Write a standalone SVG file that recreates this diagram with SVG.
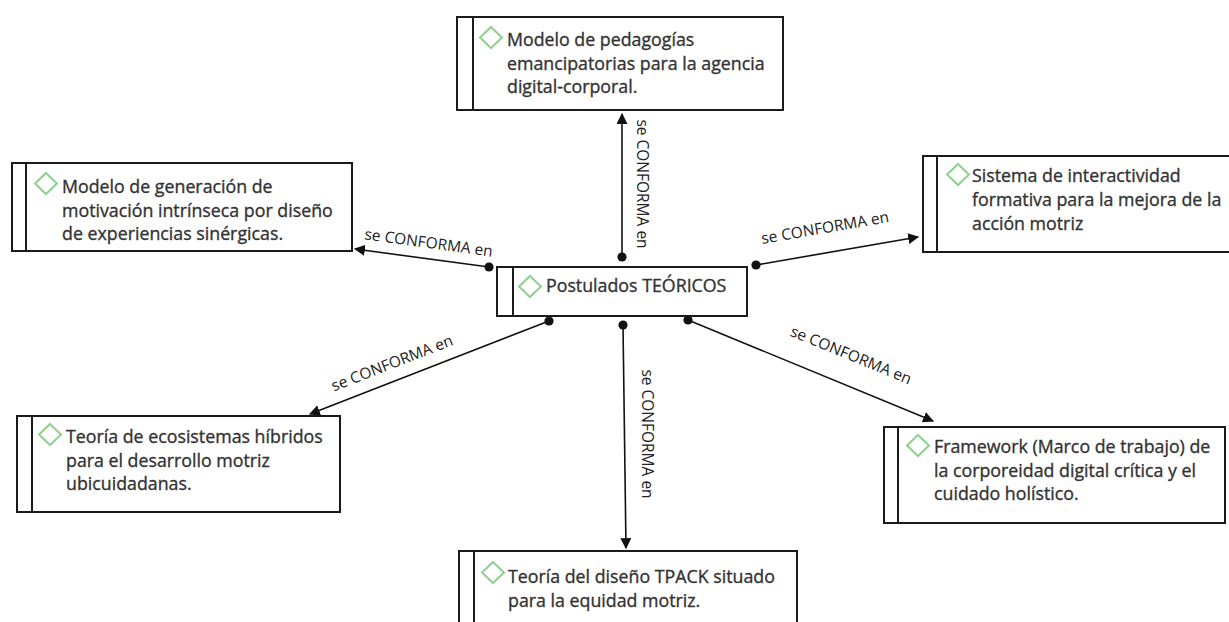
<svg xmlns="http://www.w3.org/2000/svg" width="1229" height="622" viewBox="0 0 1229 622">
<defs>
<style>
.box{fill:#fff;stroke:#1a1a1a;stroke-width:2}
.strip{stroke:#1a1a1a;stroke-width:2}
.dia{fill:none;stroke:#8fd08f;stroke-width:2}
.t{font-family:"Open Sans","Noto Sans",sans-serif;font-size:17.8px;fill:#333;stroke:#333;stroke-width:0.35}
.lbl{font-family:"Open Sans","Noto Sans",sans-serif;font-size:15.5px;fill:#222}
.con{stroke:#111;stroke-width:1.6;fill:none;marker-start:url(#dot);marker-end:url(#arr)}
</style>
<marker id="arr" viewBox="0 0 10 10" refX="9" refY="5" markerWidth="11" markerHeight="11" markerUnits="userSpaceOnUse" orient="auto">
<path d="M0,0 L10,5 L0,10 Z" fill="#111"/>
</marker>
<marker id="dot" viewBox="0 0 10 10" refX="5" refY="5" markerWidth="10" markerHeight="10" markerUnits="userSpaceOnUse">
<circle cx="5" cy="5" r="4.6" fill="#111"/>
</marker>
</defs>
<rect width="1229" height="622" fill="#fff"/>

<g id="connectors">
<line class="con" x1="622" y1="257" x2="622" y2="114"/>
<line class="con" x1="489" y1="267" x2="355" y2="249"/>
<line class="con" x1="756" y1="265" x2="918" y2="237"/>
<line class="con" x1="549" y1="321" x2="310" y2="414"/>
<line class="con" x1="623" y1="325" x2="626" y2="548"/>
<line class="con" x1="688" y1="320" x2="933" y2="421"/>
<text class="lbl" transform="translate(637,184) rotate(90)" text-anchor="middle">se CONFORMA en</text>
<text class="lbl" transform="translate(642,434) rotate(90)" text-anchor="middle">se CONFORMA en</text>
<text class="lbl" transform="translate(428,248) rotate(7.7)" text-anchor="middle">se CONFORMA en</text>
<text class="lbl" transform="translate(826,233) rotate(-9.8)" text-anchor="middle">se CONFORMA en</text>
<text class="lbl" transform="translate(394,368) rotate(-21.3)" text-anchor="middle">se CONFORMA en</text>
<text class="lbl" transform="translate(849,360) rotate(22.3)" text-anchor="middle">se CONFORMA en</text>
</g>

<g id="n-top">
<rect class="box" x="457" y="17" width="326" height="93"/>
<line class="strip" x1="473" y1="17" x2="473" y2="110"/>
<path class="dia" d="M491,27 L502,37.5 L491,48 L480,37.5 Z"/>
<text class="t" x="507" y="46">Modelo de pedagogías</text>
<text class="t" x="507" y="70">emancipatorias para la agencia</text>
<text class="t" x="507" y="93">digital-corporal.</text>
</g>

<g id="n-left">
<rect class="box" x="12" y="163" width="340" height="88"/>
<line class="strip" x1="26" y1="163" x2="26" y2="251"/>
<path class="dia" d="M46,173 L57,183.5 L46,194 L35,183.5 Z"/>
<text class="t" x="62" y="193">Modelo de generación de</text>
<text class="t" x="62" y="217">motivación intrínseca por diseño</text>
<text class="t" x="62" y="240">de experiencias sinérgicas.</text>
</g>

<g id="n-right">
<rect class="box" x="923" y="156" width="320" height="96"/>
<line class="strip" x1="937" y1="156" x2="937" y2="252"/>
<path class="dia" d="M958,164 L969,174.5 L958,185 L947,174.5 Z"/>
<text class="t" x="972" y="182">Sistema de interactividad</text>
<text class="t" x="972" y="206">formativa para la mejora de la</text>
<text class="t" x="972" y="230">acción motriz</text>
</g>

<g id="n-center">
<rect class="box" x="497" y="267" width="250" height="49"/>
<line class="strip" x1="513" y1="267" x2="513" y2="316"/>
<path class="dia" d="M530,276 L541,286.5 L530,297 L519,286.5 Z"/>
<text class="t" x="546" y="292">Postulados TEÓRICOS</text>
</g>

<g id="n-lowleft">
<rect class="box" x="17" y="416" width="323" height="96"/>
<line class="strip" x1="32" y1="416" x2="32" y2="512"/>
<path class="dia" d="M50,424 L61,434.5 L50,445 L39,434.5 Z"/>
<text class="t" x="66" y="443">Teoría de ecosistemas híbridos</text>
<text class="t" x="66" y="467">para el desarrollo motriz</text>
<text class="t" x="66" y="490">ubicuidadanas.</text>
</g>

<g id="n-lowright">
<rect class="box" x="884" y="427" width="341" height="96"/>
<line class="strip" x1="898" y1="427" x2="898" y2="523"/>
<path class="dia" d="M918,435 L929,445.5 L918,456 L907,445.5 Z"/>
<text class="t" x="934" y="453">Framework (Marco de trabajo) de</text>
<text class="t" x="934" y="477">la corporeidad digital crítica y el</text>
<text class="t" x="934" y="500">cuidado holístico.</text>
</g>

<g id="n-bottom">
<rect class="box" x="459" y="551" width="338" height="90"/>
<line class="strip" x1="474" y1="551" x2="474" y2="641"/>
<path class="dia" d="M493,562 L504,572.5 L493,583 L482,572.5 Z"/>
<text class="t" x="508" y="583">Teoría del diseño TPACK situado</text>
<text class="t" x="508" y="607">para la equidad motriz.</text>
</g>
</svg>
